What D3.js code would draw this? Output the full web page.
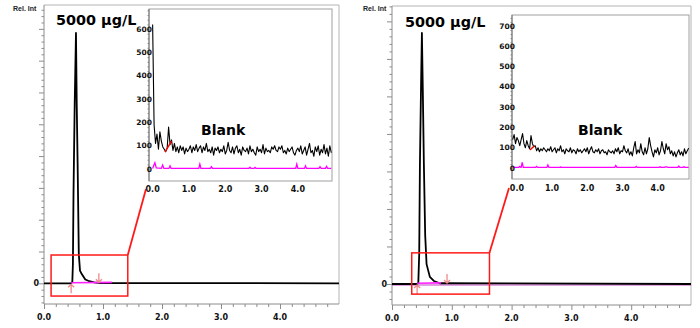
<!DOCTYPE html>
<html><head><meta charset="utf-8">
<script src="https://cdn.jsdelivr.net/npm/d3@7/dist/d3.min.js"></script>
<style>body{margin:0;background:#fff}svg{display:block}</style>
</head><body><svg id="c" width="700" height="328"></svg>
<script>
// ---------- DATA ----------
// main chromatogram (sample 5000 µg/L), time (min) / relative intensity
const peakTimesL  = [0, 0.46, 0.48, 0.49, 0.50, 0.52, 0.542, 0.555, 0.57, 0.59, 0.61, 0.64, 0.70, 0.75, 0.85, 0.95, 5.0];
const peakValuesL = [0, 0, 5, 60, 280, 560, 787, 560, 375, 92, 40, 29, 12, 8, 3, 1, 0];
const peakTimesR  = [0, 0.42, 0.44, 0.455, 0.467, 0.485, 0.50, 0.515, 0.533, 0.555, 0.578, 0.633, 0.70, 0.80, 5.0];
const peakValuesR = [0, 0, 3, 80, 320, 520, 669, 520, 320, 130, 53, 19, 8, 2, 0];
// integration baseline segment and its markers (min)
const baseTimesL = [0.46, 1.15], baseValuesL = [2, 3];
const baseTimesR = [0.42, 0.82], baseValuesR = [2, 3];
const markerUpL = [0.46], markerDownL = [0.93];
const markerUpR = [0.42], markerDownR = [0.92];
// blank chromatogram (inset), sampled every 0.04 min
const blankStep = 0.04;
const blankStartL = 0.0;
const blankL = [620,190,110,150,85,160,120,95,85,75,90,180,105,125,80,
  110,75,95,70,100,80,95,65,90,75,
  85,100,70,95,80,105,75,90,100,70,
  95,80,110,75,85,70,95,60,90,80,
  95,70,85,75,100,65,80,115,80,70,
  95,65,90,100,70,85,60,95,80,75,
  90,65,100,75,85,70,60,95,75,85,
  70,105,65,90,75,80,70,95,85,100,
  80,75,95,85,100,70,80,65,90,75,
  85,95,70,60,80,90,75,100,65,80,
  95,60,85,110,70,80,55,95,75,100,
  60,85,70,105,65,90,55,100,70];
const blankStartR = -0.12;
const blankR = [140,165,120,150,135,110,140,170,120,100,135,110,95,160,120,105,110,85,100,80,
  95,85,100,90,80,95,85,105,80,90,
  100,75,95,85,110,80,90,70,95,85,
  80,100,75,90,85,70,95,80,90,75,
  85,95,80,100,70,90,105,80,75,90,
  80,95,70,85,90,75,80,65,90,80,
  75,85,70,95,80,100,70,85,80,110,
  85,75,95,65,80,60,100,130,70,90,
  75,120,80,65,100,70,95,150,110,80,
  55,90,75,100,65,85,130,95,70,120,
  90,105,70,85,60,80,55,75,90,65,
  80,60,95,70,85,98];
// blank integration baseline (red) in inset
const blankBaseTimesL = [0.34, 0.52], blankBaseValuesL = [73, 120];
const blankBaseTimesR = [0.37, 0.50], blankBaseValuesR = [89, 110];
// blank second trace (magenta)
const magTimesL  = [0, 0.03, 0.063, 0.1, 0.24, 0.275, 0.31, 0.45, 0.48, 0.51, 1.27, 1.30, 1.33, 1.59, 1.62, 1.65, 2.65, 2.68, 2.71, 2.79, 2.82, 2.85, 3.94, 3.97, 4.00, 4.18, 4.21, 4.24, 4.58, 4.61, 4.64, 4.76, 4.79, 4.82, 4.92];
const magValuesL = [3, 15, 27, 5, 3, 17, 3, 3, 14, 3, 3, 21, 3, 3, 10, 3, 3, 8, 3, 3, 7, 3, 3, 21, 3, 3, 14, 3, 3, 10, 3, 3, 12, 3, 3];
const magTimesR  = [-0.12, 0.05, 0.08, 0.11, 0.12, 0.15, 0.18, 0.53, 0.56, 0.59, 0.85, 0.88, 0.91, 1.21, 1.24, 1.27, 2.78, 2.81, 2.84, 3.36, 3.39, 3.42, 4.04, 4.07, 4.10, 4.19, 4.22, 4.26, 4.29, 4.57, 4.60, 4.63, 4.72, 4.75, 4.78, 4.88];
const magValuesR = [3, 3, 8, 3, 3, 28, 3, 3, 8, 3, 3, 15, 3, 3, 5, 3, 3, 12, 3, 3, 8, 3, 3, 6, 3, 3, 6, 6, 3, 3, 10, 3, 3, 6, 3, 3];
// labels
const titleText = "5000 µg/L";
const insetText = "Blank";
const yAxisText = "Rel. Int";
const xTickLabels = ["0.0", "1.0", "2.0", "3.0", "4.0"];
const xTickValues = [0, 1, 2, 3, 4];
const insetYTicksL = [0, 100, 200, 300, 400, 500, 600];
const insetYTicksR = [0, 100, 200, 300, 400, 500, 600, 700];

// ---------- LAYOUT ----------
const panels = [
  { left: 44, right: 339, top: 5, bottom: 304, yDom: [-65, 875],
    inL: 149, inR: 332, inT: 9, inB: 181, inXDom: [-0.10, 4.94], inYDom: [-51, 686],
    zoomX: [0.12, 1.42], zoomY: [-40, 89], connEnd: [-3, 8],
    peakT: peakTimesL, peakV: peakValuesL, baseT: baseTimesL, baseV: baseValuesL,
    up: markerUpL, down: markerDownL, bStart: blankStartL, blank: blankL,
    bbT: blankBaseTimesL, bbV: blankBaseValuesL, magT: magTimesL, magV: magValuesL,
    yTicks: insetYTicksL, relX: 13, titleX: 56, titleY: 24.5, blankX: 201, blankY: 135, xLabDy: 11, fullMag: false },
  { left: 392, right: 691, top: 6, bottom: 305, yDom: [-56, 741],
    inL: 512, inR: 689, inT: 15, inB: 179, inXDom: [-0.14, 4.89], inYDom: [-54, 754],
    zoomX: [0.33, 1.63], zoomY: [-27, 83], connEnd: [-3, 9],
    peakT: peakTimesR, peakV: peakValuesR, baseT: baseTimesR, baseV: baseValuesR,
    up: markerUpR, down: markerDownR, bStart: blankStartR, blank: blankR,
    bbT: blankBaseTimesR, bbV: blankBaseValuesR, magT: magTimesR, magV: magValuesR,
    yTicks: insetYTicksR, relX: 363, titleX: 405, titleY: 27, blankX: 578, blankY: 135, xLabDy: 12, fullMag: true }
];

const svg = d3.select("#c");
const FONT = "'DejaVu Sans', Verdana, sans-serif";
const AX = "#8c8c8c";

function styleAxis(sel) {
  sel.select(".domain").remove();
  sel.selectAll(".tick line").attr("stroke", AX);
  sel.selectAll("text").remove();
}

panels.forEach(p => {
  const g = svg.append("g");
  const x = d3.scaleLinear().domain([0, 5]).range([p.left, p.right]);
  const y = d3.scaleLinear().domain(p.yDom).range([p.bottom, p.top]);
  const line = d3.line().x(d => x(d[0])).y(d => y(d[1]));

  // frame
  g.append("path").attr("d", `M${p.left},${p.top}H${p.right}V${p.bottom}`)
    .attr("fill", "none").attr("stroke", "#b4b4b4").attr("stroke-width", 1);

  // x axis ticks
  const minorX = d3.range(0, 4.81, 0.2).filter(v => Math.abs(v - Math.round(v)) > 1e-6);
  g.append("g").attr("transform", `translate(0,${p.bottom})`)
    .call(d3.axisBottom(x).tickValues(minorX).tickSize(3)).call(styleAxis);
  g.append("g").attr("transform", `translate(0,${p.bottom})`)
    .call(d3.axisBottom(x).tickValues(xTickValues).tickSize(5)).call(styleAxis);
  xTickValues.forEach((v, i) => {
    g.append("text").attr("x", x(v)).attr("y", p.bottom + 16).attr("text-anchor", "middle")
      .attr("font-family", FONT).attr("font-weight", "bold").attr("font-size", 8).attr("fill", "#111")
      .text(xTickLabels[i]);
  });
  // y axis ticks
  const lo = Math.ceil(p.yDom[0] / 20) * 20, hi = Math.floor(p.yDom[1] / 20) * 20;
  const yAll = d3.range(lo, hi + 1, 20);
  g.append("g").attr("transform", `translate(${p.left},0)`)
    .call(d3.axisLeft(y).tickValues(yAll.filter(v => v % 100 !== 0)).tickSize(2.5)).call(styleAxis);
  g.append("g").attr("transform", `translate(${p.left},0)`)
    .call(d3.axisLeft(y).tickValues(yAll.filter(v => v % 100 === 0)).tickSize(5)).call(styleAxis);
  g.append("line").attr("x1", p.left).attr("x2", p.left).attr("y1", p.top).attr("y2", p.bottom).attr("stroke", AX);
  g.append("line").attr("x1", p.left).attr("x2", p.right).attr("y1", p.bottom).attr("y2", p.bottom).attr("stroke", AX);
  g.append("text").attr("x", p.left - 5).attr("y", y(0)).attr("dy", "0.35em").attr("text-anchor", "end")
    .attr("font-family", FONT).attr("font-weight", "bold").attr("font-size", 8).attr("fill", "#111").text("0");

  // Rel. Int
  g.append("text").attr("x", p.relX).attr("y", 10.5).attr("font-family", "'Liberation Sans', Arial, sans-serif")
    .attr("font-weight", "bold").attr("font-size", 7).attr("fill", "#222").text(yAxisText);

  // magenta (blank on main scale)
  if (p.fullMag) {
    g.append("line").attr("x1", p.left).attr("x2", p.right).attr("y1", y(0) + 1).attr("y2", y(0) + 1)
      .attr("stroke", "#c040c0").attr("stroke-width", 1);
  }
  // peak trace
  g.append("path").datum(p.peakT.map((t, i) => [t, p.peakV[i]])).attr("d", line)
    .attr("fill", "none").attr("stroke", "#000").attr("stroke-width", 1.8).attr("stroke-linejoin", "round");
  // integration baseline
  g.append("path").datum(p.baseT.map((t, i) => [t, p.baseV[i]])).attr("d", line)
    .attr("fill", "none").attr("stroke", "#ff22ff").attr("stroke-width", 1.6);
  // markers
  const pink = "#f08a8a";
  const y0 = y(0);
  p.up.forEach(t => {
    const xx = x(t);
    g.append("path").attr("d", `M${xx},${y0 + 10}V${y0 + 1}M${xx - 3},${y0 + 4}L${xx},${y0 + 1}L${xx + 3},${y0 + 4}`)
      .attr("fill", "none").attr("stroke", pink).attr("stroke-width", 1.3);
  });
  p.down.forEach(t => {
    const xx = x(t);
    g.append("path").attr("d", `M${xx},${y0 - 10}V${y0 - 1}M${xx - 3},${y0 - 4}L${xx},${y0 - 1}L${xx + 3},${y0 - 4}`)
      .attr("fill", "none").attr("stroke", pink).attr("stroke-width", 1.3);
  });
  // zoom rectangle
  const rx0 = x(p.zoomX[0]), rx1 = x(p.zoomX[1]), ry0 = y(p.zoomY[1]), ry1 = y(p.zoomY[0]);
  g.append("rect").attr("x", rx0).attr("y", ry0).attr("width", rx1 - rx0).attr("height", ry1 - ry0)
    .attr("fill", "none").attr("stroke", "#ff1a1a").attr("stroke-width", 1.5);
  g.append("line").attr("x1", rx1).attr("y1", ry0).attr("x2", p.inL + p.connEnd[0]).attr("y2", p.inB + p.connEnd[1])
    .attr("stroke", "#ff1a1a").attr("stroke-width", 1.8);

  // title
  g.append("text").attr("x", p.titleX).attr("y", p.titleY).attr("font-family", FONT).attr("font-weight", "bold")
    .attr("font-size", 14.4).attr("fill", "#000").text(titleText);

  // ---------- inset ----------
  const xi = d3.scaleLinear().domain(p.inXDom).range([p.inL, p.inR]);
  const yi = d3.scaleLinear().domain(p.inYDom).range([p.inB, p.inT]);
  const li = d3.line().x(d => xi(d[0])).y(d => yi(d[1]));
  const clipId = "clip" + p.left;
  svg.append("clipPath").attr("id", clipId).append("rect")
    .attr("x", p.inL).attr("y", p.inT).attr("width", p.inR - p.inL).attr("height", p.inB - p.inT);
  g.append("rect").attr("x", p.inL).attr("y", p.inT).attr("width", p.inR - p.inL).attr("height", p.inB - p.inT)
    .attr("fill", "#fff").attr("stroke", "#a0a0a0").attr("stroke-width", 1);
  // inset left axis minor ticks
  const iyMinor = d3.range(0, p.inYDom[1], 20);
  g.append("g").attr("transform", `translate(${p.inL},0)`)
    .call(d3.axisLeft(yi).tickValues(iyMinor).tickSize(1.5)).call(styleAxis);
  g.append("line").attr("x1", p.inL).attr("x2", p.inL).attr("y1", p.inT).attr("y2", p.inB).attr("stroke", "#777");

  const gi = g.append("g").attr("clip-path", `url(#${clipId})`);
  gi.append("path").datum(p.magT.map((t, i) => [t, p.magV[i]])).attr("d", li)
    .attr("fill", "none").attr("stroke", "#ff00ff").attr("stroke-width", 1.3);
  gi.append("path").datum(p.blank.map((v, i) => [p.bStart + i * blankStep, v])).attr("d", li)
    .attr("fill", "none").attr("stroke", "#000").attr("stroke-width", 1.1).attr("stroke-linejoin", "round");
  gi.append("path").datum(p.bbT.map((t, i) => [t, p.bbV[i]])).attr("d", li)
    .attr("fill", "none").attr("stroke", "#ff0000").attr("stroke-width", 1.4);

  p.yTicks.forEach(v => {
    g.append("text").attr("x", p.inL + 3).attr("y", yi(v)).attr("dy", "0.35em").attr("text-anchor", "end")
      .attr("font-family", FONT).attr("font-weight", "bold").attr("font-size", 7.5).attr("fill", "#111").text(v);
  });
  xTickValues.forEach((v, i) => {
    g.append("text").attr("x", xi(v)).attr("y", p.inB + p.xLabDy).attr("text-anchor", "middle")
      .attr("font-family", FONT).attr("font-weight", "bold").attr("font-size", 8).attr("fill", "#111")
      .text(xTickLabels[i]);
  });
  g.append("text").attr("x", p.blankX).attr("y", p.blankY).attr("font-family", FONT).attr("font-weight", "bold")
    .attr("font-size", 14).attr("fill", "#000").text(insetText);
});
</script>
</body></html>
